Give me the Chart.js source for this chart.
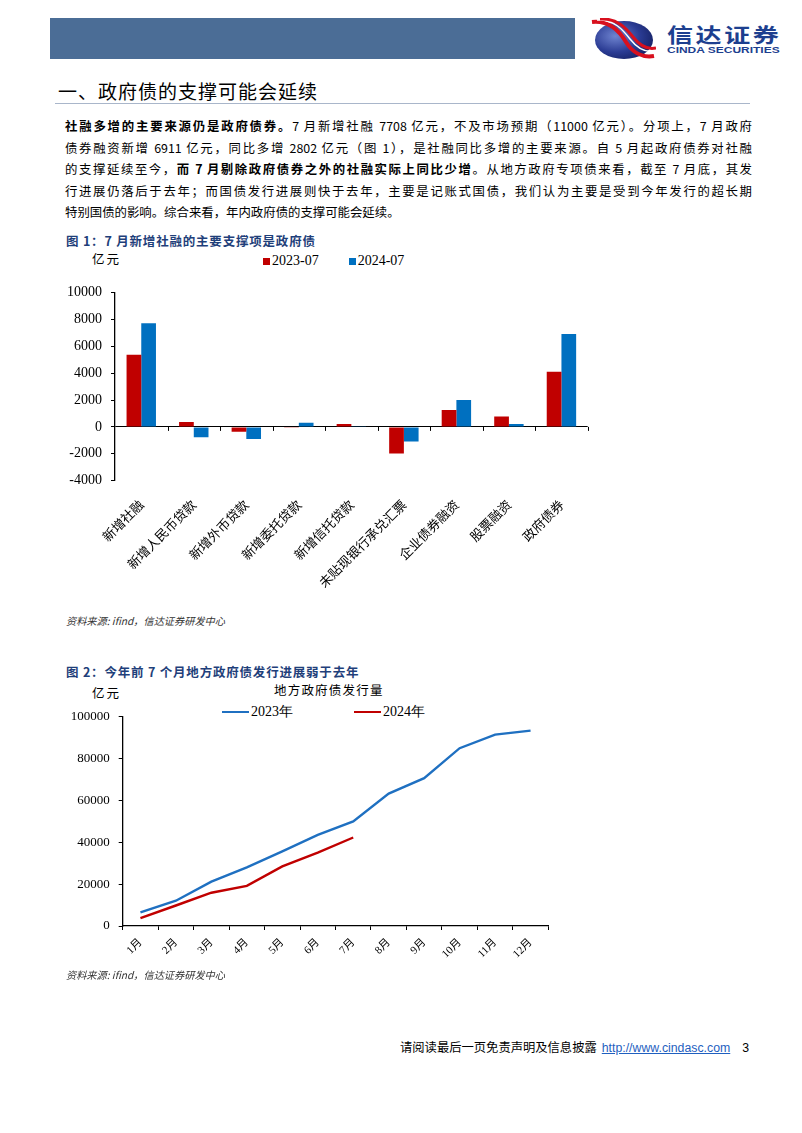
<!DOCTYPE html>
<html>
<head>
<meta charset="utf-8">
<script src="https://cdn.jsdelivr.net/npm/chart.js@4"></script>
<style>
  html, body { margin: 0; padding: 0; background: #fff; }
  body { width: 802px; height: 1133px; position: relative; overflow: hidden;
         font-family: "Noto Sans CJK SC", sans-serif; color: #000; }
  .abs { position: absolute; }
  .banner { left: 50px; top: 18px; width: 525px; height: 41px; background: #4b6d96; }
  .brand-cn { left: 667px; top: 20px; font-size: 20px; font-weight: 700; color: #1d3f8f; letter-spacing: 2px;
              transform: scaleX(1.3); transform-origin: left top; white-space: nowrap; }
  .brand-en { left: 667px; top: 45px; font-family: "Liberation Sans", Arial, sans-serif; font-size: 9px; font-weight: 700;
              color: #1d3f8f; transform: scaleX(1.33); transform-origin: left top; white-space: nowrap; }
  .section { left: 58px; top: 77px; font-size: 19px; letter-spacing: 1px; }
  .rule { left: 55px; top: 103px; width: 695px; height: 1px; background: #a9b6ca; }
  .para { left: 65px; top: 116px; width: 687px; font-size: 12.4px; line-height: 21.5px; }
  .para div { text-align: justify; text-align-last: justify; white-space: nowrap; }
  .para div.last { text-align-last: left; }
  .para b { font-weight: 700; }
  .fig-title { font-size: 12.5px; font-weight: 700; color: #1f3f7a; letter-spacing: 0.8px; }
  .unit { font-size: 12.5px; letter-spacing: 2px; }
  .source { font-size: 10.2px; font-style: italic; color: #333; }
  .legend { font-family: "Liberation Serif", "Times New Roman", serif; font-size: 14px; display: flex; align-items: center; }
  .sw { display: inline-block; width: 7px; height: 7px; margin-right: 2px; }
  .ln { display: inline-block; width: 27px; height: 2.5px; margin-right: 2px; }
  .footer { top: 1038px; left: 400px; font-size: 12.3px; white-space: nowrap; }
  .footer a { font-family: "Liberation Sans", Arial, sans-serif; color: #1f5fbf; text-decoration: underline; margin-left: 5px; }
</style>
</head>
<body>
<div class="abs banner"></div>
<svg class="abs" style="left:590px;top:18px" width="66" height="42" viewBox="0 0 66 42">
  <defs>
    <radialGradient id="g" cx="0.35" cy="0.4" r="0.7">
      <stop offset="0" stop-color="#6f84d0"/>
      <stop offset="0.6" stop-color="#2b3c94"/>
      <stop offset="1" stop-color="#162266"/>
    </radialGradient>
  </defs>
  <ellipse cx="34" cy="22" rx="29" ry="19" fill="url(#g)"/>
  <path d="M2 4 C 20 2, 30 14, 36 24 S 52 40, 64 38" stroke="#d8101e" stroke-width="4" fill="none"/>
  <path d="M7 2 C 24 1, 33 12, 40 21 S 55 35, 65 33" stroke="#fff" stroke-width="1.5" fill="none"/>
  <path d="M10 1 C 27 0, 36 10, 43 19 S 57 32, 66 30" stroke="#d8101e" stroke-width="3" fill="none"/>
</svg>
<div class="abs brand-cn">信达证券</div>
<div class="abs brand-en">CINDA SECURITIES</div>

<div class="abs section">一、政府债的支撑可能会延续</div>
<div class="abs rule"></div>
<div class="abs para">
  <div><b>社融多增的主要来源仍是政府债券。</b>7 月新增社融 7708 亿元，不及市场预期（11000 亿元）。分项上，7 月政府</div>
  <div>债券融资新增 6911 亿元，同比多增 2802 亿元（图 1），是社融同比多增的主要来源。自 5 月起政府债券对社融</div>
  <div>的支撑延续至今，<b>而 7 月剔除政府债券之外的社融实际上同比少增</b>。从地方政府专项债来看，截至 7 月底，其发</div>
  <div>行进展仍落后于去年；而国债发行进展则快于去年，主要是记账式国债，我们认为主要是受到今年发行的超长期</div>
  <div class="last">特别国债的影响。综合来看，年内政府债的支撑可能会延续。</div>
</div>

<!-- figure 1 -->
<div class="abs fig-title" style="left:66px;top:231px">图 1：7 月新增社融的主要支撑项是政府债</div>
<div class="abs unit" style="left:92px;top:249px">亿元</div>
<div class="abs legend" style="left:263px;top:253px"><span class="sw" style="background:#c00000"></span>2023-07<span style="width:30px"></span><span class="sw" style="background:#0070c0"></span>2024-07</div>
<div class="abs" style="left:60px;top:275px;width:540px;height:330px"><canvas id="barChart"></canvas></div>
<div class="abs source" style="left:66px;top:613px">资料来源: ifind，信达证券研发中心</div>

<!-- figure 2 -->
<div class="abs fig-title" style="left:66px;top:662px">图 2：今年前 7 个月地方政府债发行进展弱于去年</div>
<div class="abs unit" style="left:92px;top:683px">亿元</div>
<div class="abs" style="left:274px;top:680px;font-size:12.5px;letter-spacing:1.2px">地方政府债发行量</div>
<div class="abs legend" style="left:222px;top:703px"><span class="ln" style="background:#1f70c1"></span>2023年<span style="width:61px"></span><span class="ln" style="background:#c00000"></span>2024年</div>
<div class="abs" style="left:60px;top:700px;width:500px;height:270px"><canvas id="lineChart"></canvas></div>
<div class="abs source" style="left:66px;top:967px">资料来源: ifind，信达证券研发中心</div>

<div class="abs footer">请阅读最后一页免责声明及信息披露<a>http://www.cindasc.com</a><span style="font-family:'Liberation Sans',Arial;margin-left:12px">3</span></div>

<script>
// figure 1: July new social financing breakdown (100m yuan)
const barCategories = ["新增社融", "新增人民币贷款", "新增外币贷款", "新增委托贷款", "新增信托贷款",
                       "未贴现银行承兑汇票", "企业债券融资", "股票融资", "政府债券"];
const flow2023 = [5366, 364, -355, -20, 213, -1986, 1253, 780, 4109];
const flow2024 = [7708, -768, -898, 307, 10, -1087, 2009, 213, 6911];

// figure 2: cumulative local government bond issuance (100m yuan)
const months = ["1月", "2月", "3月", "4月", "5月", "6月", "7月", "8月", "9月", "10月", "11月", "12月"];
const issue2023 = [6500, 12100, 21200, 28000, 35700, 43600, 50000, 63300, 70700, 85000, 91500, 93400];
const issue2024 = [3800, 9800, 15900, 19200, 28500, 35100, 42300];

const serif = "'Liberation Serif', 'Times New Roman', serif";
const cjk = "'Noto Sans CJK SC', sans-serif";
const plain = v => String(v);

// small tick marks on the zero line at category boundaries
const zeroTicks = {
  id: "zeroTicks",
  afterDatasetsDraw(chart) {
    const x = chart.scales.x, y = chart.scales.y;
    const y0 = y.getPixelForValue(0);
    const ctx = chart.ctx;
    ctx.save();
    ctx.strokeStyle = "#000";
    ctx.lineWidth = 1;
    ctx.beginPath();
    for (let i = 1; i <= barCategories.length; i++) {
      const px = i < barCategories.length
        ? (x.getPixelForTick(i) + x.getPixelForTick(i - 1)) / 2
        : x.right;
      ctx.moveTo(Math.round(px) + 0.5, y0);
      ctx.lineTo(Math.round(px) + 0.5, y0 + 4);
    }
    ctx.stroke();
    ctx.restore();
  }
};

new Chart(document.getElementById("barChart"), {
  type: "bar",
  data: {
    labels: barCategories,
    datasets: [
      { label: "2023-07", data: flow2023, backgroundColor: "#c00000", categoryPercentage: 0.56, barPercentage: 1 },
      { label: "2024-07", data: flow2024, backgroundColor: "#0070c0", categoryPercentage: 0.56, barPercentage: 1 }
    ]
  },
  options: {
    responsive: true,
    maintainAspectRatio: false,
    animation: false,
    layout: { padding: { top: 8.3, right: 12.3, left: 0, bottom: 0 } },
    plugins: { legend: { display: false }, tooltip: { enabled: false } },
    scales: {
      x: {
        grid: { display: false },
        border: { display: false },
        ticks: {
          minRotation: 45, maxRotation: 45, padding: 8, color: "#000",
          font: { family: cjk, size: 13 }
        },
        afterFit: s => { s.height = 124.3; }
      },
      y: {
        min: -4000, max: 10000,
        ticks: { stepSize: 2000, padding: 9, color: "#000", font: { family: serif, size: 14 }, callback: plain },
        grid: {
          color: c => (c.tick && c.tick.value === 0 ? "#000" : "rgba(0,0,0,0)"),
          tickColor: "#000", tickLength: 4, lineWidth: 1
        },
        border: { color: "#000", width: 1.3 },
        afterFit: s => { s.width = 55; }
      }
    }
  },
  plugins: [zeroTicks]
});

new Chart(document.getElementById("lineChart"), {
  type: "line",
  data: {
    labels: months,
    datasets: [
      { label: "2023年", data: issue2023, borderColor: "#1f70c1", borderWidth: 2.4, pointRadius: 0, tension: 0 },
      { label: "2024年", data: issue2024, borderColor: "#c00000", borderWidth: 2.4, pointRadius: 0, tension: 0 }
    ]
  },
  options: {
    responsive: true,
    maintainAspectRatio: false,
    animation: false,
    layout: { padding: { top: 6, right: 11.7, left: 0, bottom: 0 } },
    plugins: { legend: { display: false }, tooltip: { enabled: false } },
    scales: {
      x: {
        offset: true,
        grid: { display: true, offset: true, drawOnChartArea: false, tickColor: "#000", tickLength: 4 },
        border: { color: "#000", width: 1.3 },
        ticks: {
          minRotation: 45, maxRotation: 45, padding: 6, color: "#000",
          font: { family: serif + ", " + cjk, size: 11 }
        },
        afterFit: s => { s.height = 44; }
      },
      y: {
        min: 0, max: 100000,
        ticks: { stepSize: 20000, padding: 9, color: "#000", font: { family: serif, size: 13 }, callback: plain },
        grid: { drawOnChartArea: false, tickColor: "#000", tickLength: 4 },
        border: { color: "#000", width: 1.3 },
        afterFit: s => { s.width = 62.7; }
      }
    }
  }
});
</script>
</body>
</html>
